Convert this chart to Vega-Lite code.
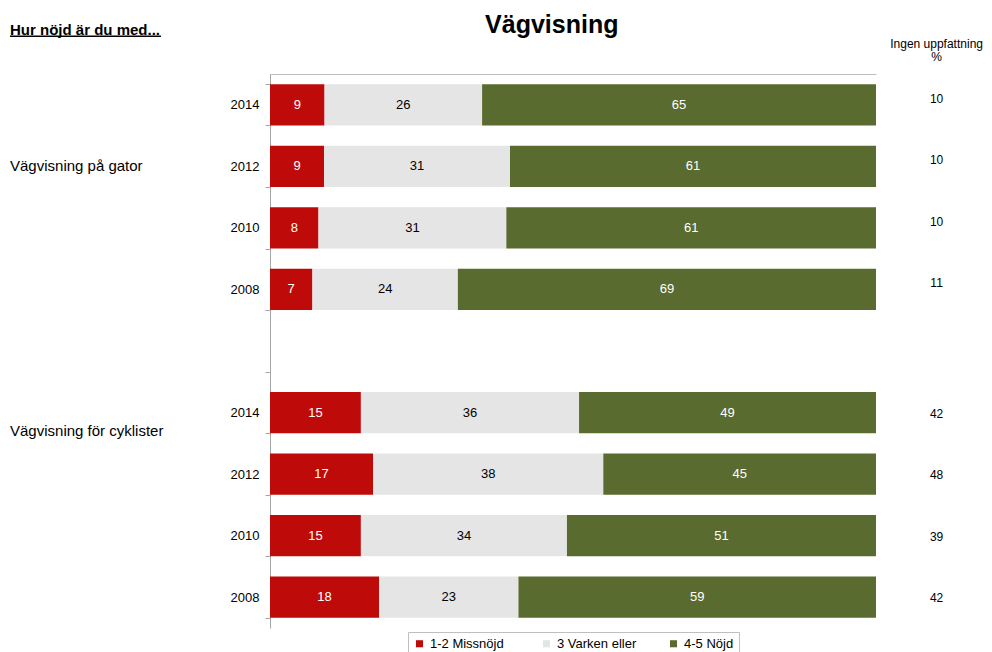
{
  "$schema": "https://vega.github.io/schema/vega-lite/v6.json",
  "autosize": {"type": "none"},
  "width": 606,
  "height": 554,
  "padding": {"left": 270, "top": 74, "right": 116, "bottom": 24},
  "background": "white",
  "datasets": {
    "bars": [
      {"key": "a2014", "cat": "1-2 Missnöjd", "ord": 1, "value": 9},
      {"key": "a2014", "cat": "3 Varken eller", "ord": 2, "value": 26},
      {"key": "a2014", "cat": "4-5 Nöjd", "ord": 3, "value": 65},
      {"key": "a2012", "cat": "1-2 Missnöjd", "ord": 1, "value": 9},
      {"key": "a2012", "cat": "3 Varken eller", "ord": 2, "value": 31},
      {"key": "a2012", "cat": "4-5 Nöjd", "ord": 3, "value": 61},
      {"key": "a2010", "cat": "1-2 Missnöjd", "ord": 1, "value": 8},
      {"key": "a2010", "cat": "3 Varken eller", "ord": 2, "value": 31},
      {"key": "a2010", "cat": "4-5 Nöjd", "ord": 3, "value": 61},
      {"key": "a2008", "cat": "1-2 Missnöjd", "ord": 1, "value": 7},
      {"key": "a2008", "cat": "3 Varken eller", "ord": 2, "value": 24},
      {"key": "a2008", "cat": "4-5 Nöjd", "ord": 3, "value": 69},
      {"key": "b2014", "cat": "1-2 Missnöjd", "ord": 1, "value": 15},
      {"key": "b2014", "cat": "3 Varken eller", "ord": 2, "value": 36},
      {"key": "b2014", "cat": "4-5 Nöjd", "ord": 3, "value": 49},
      {"key": "b2012", "cat": "1-2 Missnöjd", "ord": 1, "value": 17},
      {"key": "b2012", "cat": "3 Varken eller", "ord": 2, "value": 38},
      {"key": "b2012", "cat": "4-5 Nöjd", "ord": 3, "value": 45},
      {"key": "b2010", "cat": "1-2 Missnöjd", "ord": 1, "value": 15},
      {"key": "b2010", "cat": "3 Varken eller", "ord": 2, "value": 34},
      {"key": "b2010", "cat": "4-5 Nöjd", "ord": 3, "value": 51},
      {"key": "b2008", "cat": "1-2 Missnöjd", "ord": 1, "value": 18},
      {"key": "b2008", "cat": "3 Varken eller", "ord": 2, "value": 23},
      {"key": "b2008", "cat": "4-5 Nöjd", "ord": 3, "value": 59}
    ],
    "ingenA": [
      {"key": "a2014", "value": 10},
      {"key": "a2012", "value": 10},
      {"key": "a2010", "value": 10},
      {"key": "a2008", "value": 11}
    ],
    "ingenB": [
      {"key": "b2014", "value": 42},
      {"key": "b2012", "value": 48},
      {"key": "b2010", "value": 39},
      {"key": "b2008", "value": 42}
    ]
  },
  "encoding": {
    "y": {
      "field": "key", "type": "nominal",
      "scale": {"domain": ["a2014", "a2012", "a2010", "a2008", "gap", "b2014", "b2012", "b2010", "b2008"], "paddingInner": 0.33, "paddingOuter": 0.165},
      "axis": {"title": null, "labelExpr": "datum.label == 'gap' ? '' : substring(datum.label, 1)", "domainColor": "#a6a6a6", "tickColor": "#a6a6a6", "tickSize": 5, "tickBand": "extent", "labelPadding": 6, "labelFontSize": 13, "labelColor": "#000000", "labelFont": "Liberation Sans"}
    }
  },
  "layer": [
    {
      "data": {"name": "bars"},
      "mark": {"type": "bar", "stroke": null},
      "encoding": {
        "x": {"field": "value", "type": "quantitative", "stack": "normalize", "scale": {"domain": [0, 1], "nice": false},
          "axis": {"orient": "top", "title": null, "labels": false, "ticks": false, "grid": false, "domainColor": "#bfbfbf"}},
        "order": {"field": "ord", "type": "quantitative"},
        "color": {"field": "cat", "type": "nominal",
          "scale": {"domain": ["1-2 Missnöjd", "3 Varken eller", "4-5 Nöjd"], "range": ["#bf0a0a", "#e5e5e5", "#5a6b2f"]},
          "legend": {"title": null, "orient": "bottom", "direction": "horizontal", "offset": 4, "strokeColor": "#bfbfbf", "padding": 5, "symbolType": "square", "symbolSize": 50, "labelFontSize": 13, "labelFont": "Liberation Sans", "labelColor": "#000000", "columnPadding": 30, "gridAlign": "all", "symbolStrokeWidth": 0}
        }
      }
    },
    {
      "data": {"name": "bars"},
      "transform": [
        {"stack": "value", "groupby": ["key"], "sort": [{"field": "ord"}], "offset": "normalize", "as": ["x0", "x1"]},
        {"fold": ["x0", "x1"], "as": ["edge", "pos"]},
        {"aggregate": [{"op": "mean", "field": "pos", "as": "xm"}], "groupby": ["key", "ord", "value"]}
      ],
      "mark": {"type": "text", "fontSize": 13, "font": "Liberation Sans"},
      "encoding": {
        "x": {"field": "xm", "type": "quantitative"},
        "text": {"field": "value", "type": "quantitative"},
        "color": {"condition": {"test": "datum.ord == 2", "value": "#000000"}, "value": "#ffffff"}
      }
    },
    {
      "data": {"name": "ingenA"},
      "mark": {"type": "text", "fontSize": 12, "font": "Liberation Sans", "color": "#000000", "dy": -6},
      "encoding": {
        "x": {"datum": 1.1},
        "text": {"field": "value", "type": "quantitative"}
      }
    },
    {
      "data": {"name": "ingenB"},
      "mark": {"type": "text", "fontSize": 12, "font": "Liberation Sans", "color": "#000000", "dy": 1},
      "encoding": {
        "x": {"datum": 1.1},
        "text": {"field": "value", "type": "quantitative"}
      }
    },
    {
      "data": {"values": [{"key": "a2014", "label": ["Ingen uppfattning", "%"]}]},
      "mark": {"type": "text", "fontSize": 12, "font": "Liberation Sans", "color": "#000000", "baseline": "top", "dy": -66, "lineHeight": 13},
      "encoding": {
        "x": {"datum": 1.1},
        "text": {"field": "label"}
      }
    },
    {
      "data": {"values": [{"key": "a2014", "label": "Vägvisning"}]},
      "mark": {"type": "text", "fontSize": 25, "font": "Liberation Sans", "fontWeight": "bold", "color": "#000000", "dy": -80},
      "encoding": {
        "x": {"datum": 0.465},
        "text": {"field": "label"}
      }
    },
    {
      "data": {"values": [{"key": "a2014", "label": "Hur nöjd är du med..."}]},
      "mark": {"type": "text", "fontSize": 15, "font": "Liberation Sans", "fontWeight": "bold", "color": "#000000", "align": "left", "dy": -75},
      "encoding": {
        "x": {"datum": -0.429},
        "text": {"field": "label"}
      }
    },
    {
      "data": {"values": [{"key": "a2014", "a": -0.429, "b": -0.18}]},
      "mark": {"type": "rule", "color": "#000000", "strokeWidth": 1.5},
      "encoding": {
        "x": {"field": "a", "type": "quantitative"},
        "x2": {"field": "b"},
        "yOffset": {"value": -48}
      }
    },
    {
      "data": {"values": [{"key": "a2012", "label": "Vägvisning på gator"}]},
      "mark": {"type": "text", "fontSize": 15, "font": "Liberation Sans", "color": "#000000", "align": "left"},
      "encoding": {
        "x": {"datum": -0.429},
        "text": {"field": "label"}
      }
    },
    {
      "data": {"values": [{"key": "b2014", "label": "Vägvisning för cyklister"}]},
      "mark": {"type": "text", "fontSize": 15, "font": "Liberation Sans", "color": "#000000", "align": "left", "dy": 18},
      "encoding": {
        "x": {"datum": -0.429},
        "text": {"field": "label"}
      }
    }
  ],
  "config": {
    "view": {"stroke": null},
    "legend": {"layout": {"bottom": {"anchor": "middle"}}}
  }
}
